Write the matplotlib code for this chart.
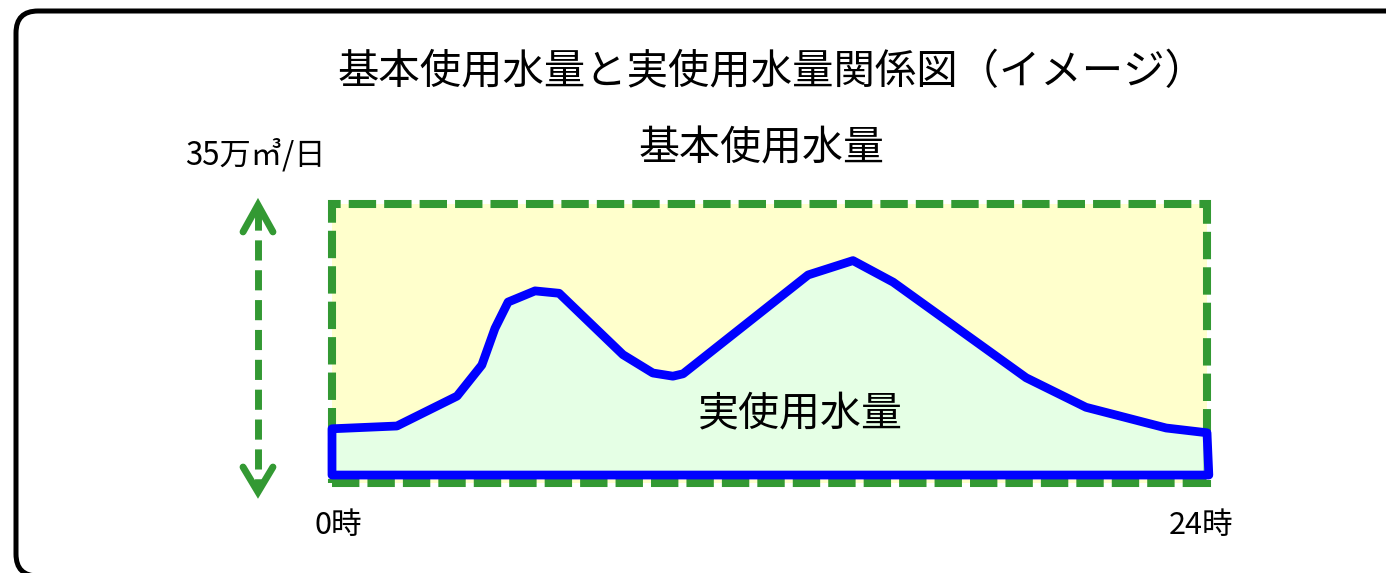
import matplotlib
matplotlib.use("Agg")
import matplotlib.pyplot as plt
from matplotlib.patches import FancyBboxPatch, Rectangle, Polygon
from matplotlib.transforms import IdentityTransform

plt.rcParams['font.family'] = ['Noto Sans CJK JP', 'DejaVu Sans']

# 実使用水量のカーブ（時刻, 万m3/日）
hours = [0, 1.78, 3.43, 4.11, 4.47, 4.83, 5.57, 6.23, 7.98, 8.80, 9.35, 9.63,
         13.06, 14.29, 15.39, 19.04, 20.68, 22.88, 24.0]
usage = [6.8, 7.15, 10.9, 14.8, 19.4, 22.7, 24.1, 23.8, 16.1, 13.8, 13.4, 13.7,
         26.1, 27.9, 25.2, 13.2, 9.5, 6.9, 6.3]
usage_floor = 1.0
base_amount = 35      # 基本使用水量 35万m3/日
day_hours = 24

title = "基本使用水量と実使用水量関係図（イメージ）"
base_label = "基本使用水量"
usage_label = "実使用水量"
y_label = "35万㎥/日"
x_labels = ["0時", "24時"]

GREEN = "#339933"
BLUE = "#0000ff"

fig = plt.figure(figsize=(13.86, 5.73), dpi=100)
fig.patch.set_facecolor("white")

# 外枠（角丸、右と下ははみ出し）
frame = FancyBboxPatch((16, -3), 1450, 565, boxstyle="round,pad=0,rounding_size=22",
                       transform=IdentityTransform(), fill=False,
                       edgecolor="black", linewidth=3.6)
fig.add_artist(frame)

ax = fig.add_axes([332 / 1386, 90 / 573, 875 / 1386, 279 / 573])
ax.set_xlim(0, day_hours)
ax.set_ylim(0, base_amount)
ax.set_axis_off()

# 基本使用水量の枠
ax.add_patch(Rectangle((0, 0), day_hours, base_amount, facecolor="#ffffcc",
                       edgecolor="none", zorder=1))
ax.add_patch(Rectangle((0, 0), day_hours, base_amount, fill=False, edgecolor=GREEN,
                       linewidth=5.8, linestyle=(0, (3.4, 1.0)), zorder=2,
                       clip_on=False))

# 実使用水量
pts = list(zip(hours, usage)) + [(day_hours + 0.05, usage_floor), (0, usage_floor)]
ax.add_patch(Polygon(pts, closed=True, facecolor=(0.854, 1.0, 0.94), alpha=0.7,
                     edgecolor="none", zorder=3, clip_on=False))
ax.add_patch(Polygon(pts, closed=True, fill=False, edgecolor=BLUE, linewidth=6.3,
                     joinstyle="round", zorder=4, clip_on=False))

# 縦の両矢印
ax_x = -2.03
top_tip, bot_tip = 34.87, -1.13
ax.plot([ax_x, ax_x], [top_tip - 0.6, bot_tip + 0.6], color=GREEN, linewidth=5,
        linestyle=(0, (2.9, 1.4)), clip_on=False, solid_capstyle="butt")
for tip, arm in [(top_tip, 31.5), (bot_tip, 2.0)]:
    ax.plot([ax_x - 0.41, ax_x, ax_x + 0.41], [arm, tip, arm], color=GREEN,
            linewidth=5, solid_capstyle="round", solid_joinstyle="miter",
            clip_on=False)

ax.text(12.84, 8.5, usage_label, fontsize=29.5, ha="center", va="center", zorder=5)

fig.text(772 / 1386, 1 - 73 / 573, title, fontsize=29.8, ha="center", va="center")
fig.text(762 / 1386, 1 - 149 / 573, base_label, fontsize=29.5, ha="center", va="center")
fig.text(185 / 1386, 1 - 155 / 573, y_label, fontsize=22.5, ha="left", va="center")
fig.text(314 / 1386, 1 - 525 / 573, x_labels[0], fontsize=22, ha="left", va="center")
fig.text(1169 / 1386, 1 - 526 / 573, x_labels[1], fontsize=22, ha="left", va="center")

fig.savefig("out.png", dpi=100, facecolor="white")
